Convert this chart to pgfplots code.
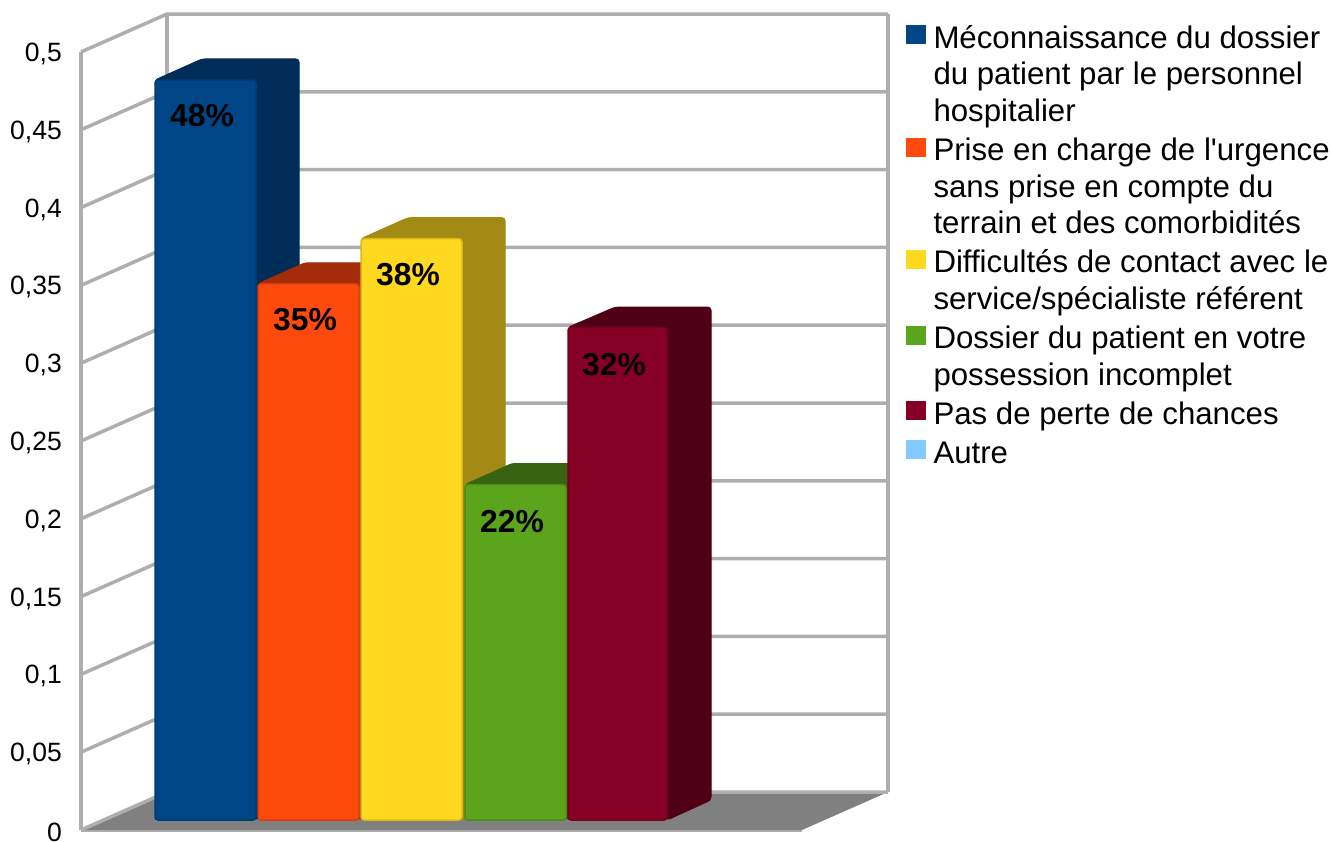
\documentclass[border=0pt]{standalone}
\usepackage{fontspec}
\setmainfont{Liberation Sans}[Ligatures={TeXOff,NoCommon}]
\usepackage{pgfplots}
\pgfplotsset{compat=1.18}
\definecolor{gridc}{HTML}{AEAEAE}
\definecolor{floorc}{HTML}{808080}
\definecolor{blueF}{HTML}{004586}\definecolor{blueS}{HTML}{002C58}
\definecolor{redF}{HTML}{FF4A0E}\definecolor{redS}{HTML}{A52C08}
\definecolor{yelF}{HTML}{FFD920}\definecolor{yelS}{HTML}{A38A14}
\definecolor{greF}{HTML}{5BA51C}\definecolor{greS}{HTML}{386412}
\definecolor{purF}{HTML}{860026}\definecolor{purS}{HTML}{500016}
\definecolor{cyaF}{HTML}{83CAFF}
\newcommand{\barlabel}[1]{\fontsize{31.8}{36}\selectfont\bfseries #1}
% legend entries as boxes with a fixed line pitch
\newcommand{\lline}[1]{\hbox{\vrule width 0pt height 25.6pt depth 11pt\relax #1}}
\newcommand{\lentry}[1]{\vbox{\offinterlineskip #1}}
\tikzset{
  gl/.style={gridc,line width=3.5pt},
  front/.style={fill=#1F,draw=#1F!85!black,line width=1.5pt,rounded corners=3pt},
  back/.style={fill=#1S,draw=#1S,line width=1pt,rounded corners=3pt}
}
\begin{document}
\begin{tikzpicture}[x=1pt,y=1pt]
\begin{axis}[
  at={(81pt,11pt)},anchor=south west,
  scale only axis,width=721pt,height=778pt,
  xmin=81,xmax=802,ymin=0,ymax=0.5,clip=false,
  axis y line=left,axis x line=bottom,
  axis line style={gridc,line width=3.5pt,-},
  xtick=\empty,
  ytick={0,0.05,0.1,0.15,0.2,0.25,0.3,0.35,0.4,0.45,0.5},
  yticklabels={0,{0,05},{0,1},{0,15},{0,2},{0,25},{0,3},{0,35},{0,4},{0,45},{0,5}},
  major tick length=0pt,
  yticklabel style={font=\fontsize{26.5}{30}\selectfont,inner sep=0pt,xshift=-19pt,yshift=-2pt},
  legend image code/.code={\fill[#1,draw=none,rounded corners=0pt] (0pt,-23.6pt) rectangle (20pt,-4.6pt);},
  legend style={at={(axis cs:906,0.5244)},anchor=north west,draw=none,fill=none,inner sep=0pt,outer sep=0pt,
    yshift=-6.6pt,
    font=\fontsize{31.2}{36.6}\selectfont,row sep=8pt,
    cells={anchor=north west,inner sep=0pt,outer sep=0pt},
    /tikz/every odd column/.style={column sep=5.5pt}},
]
% floor
\addplot[fill=floorc,draw=none,forget plot] coordinates {(81,0) (167,0.0244) (888,0.0244) (802,0)} --cycle;
% walls
\addplot[gl,forget plot] coordinates {(167,0.0244) (167,0.5244)};
\addplot[gl,forget plot] coordinates {(888,0.0244) (888,0.5244)};
% grid: side wall and back wall
\addplot[gl,forget plot] coordinates {(81,0) (167,0.0244) (888,0.0244)};
\addplot[gl,forget plot] coordinates {(81,0.05) (167,0.0744) (888,0.0744)};
\addplot[gl,forget plot] coordinates {(81,0.1) (167,0.1244) (888,0.1244)};
\addplot[gl,forget plot] coordinates {(81,0.15) (167,0.1744) (888,0.1744)};
\addplot[gl,forget plot] coordinates {(81,0.2) (167,0.2244) (888,0.2244)};
\addplot[gl,forget plot] coordinates {(81,0.25) (167,0.2744) (888,0.2744)};
\addplot[gl,forget plot] coordinates {(81,0.3) (167,0.3244) (888,0.3244)};
\addplot[gl,forget plot] coordinates {(81,0.35) (167,0.3744) (888,0.3744)};
\addplot[gl,forget plot] coordinates {(81,0.4) (167,0.4244) (888,0.4244)};
\addplot[gl,forget plot] coordinates {(81,0.45) (167,0.4744) (888,0.4744)};
\addplot[gl,forget plot] coordinates {(81,0.5) (167,0.5244) (888,0.5244)};
% blue bar: 0.482
\addplot[back=blue,forget plot] coordinates {(155,0.482) (202,0.4955) (299,0.4955) (299,0.0193) (256,0.0064) (256,0.482)} --cycle;
\addplot[front=blue] coordinates {(155,0.0064) (155,0.482) (256,0.482) (256,0.0064)} --cycle;
\addlegendentry{\lentry{\lline{Méconnaissance du dossier}\lline{du patient par le personnel}\lline{hospitalier}}}
% red bar: 0.351
\addplot[back=red,forget plot] coordinates {(258,0.351) (305,0.3645) (402,0.3645) (402,0.0193) (359,0.0064) (359,0.351)} --cycle;
\addplot[front=red] coordinates {(258,0.0064) (258,0.351) (359,0.351) (359,0.0064)} --cycle;
\addlegendentry{\lentry{\lline{Prise en charge de l'urgence}\lline{sans prise en compte du}\lline{terrain et des comorbidités}}}
% yellow bar: 0.380
\addplot[back=yel,forget plot] coordinates {(361,0.380) (408,0.3935) (505,0.3935) (505,0.0193) (462,0.0064) (462,0.380)} --cycle;
\addplot[front=yel] coordinates {(361,0.0064) (361,0.380) (462,0.380) (462,0.0064)} --cycle;
\addlegendentry{\lentry{\lline{Difficultés de contact avec le}\lline{service/spécialiste référent}}}
% green bar: 0.222
\addplot[back=gre,forget plot] coordinates {(465,0.222) (512,0.2355) (609,0.2355) (609,0.0193) (566,0.0064) (566,0.222)} --cycle;
\addplot[front=gre] coordinates {(465,0.0064) (465,0.222) (566,0.222) (566,0.0064)} --cycle;
\addlegendentry{\lentry{\lline{Dossier du patient en votre}\lline{possession incomplet}}}
% purple bar: 0.323
\addplot[back=pur,forget plot] coordinates {(568,0.323) (615,0.3360) (711,0.3360) (711,0.0193) (667,0.0064) (667,0.323)} --cycle;
\addplot[front=pur] coordinates {(568,0.0064) (568,0.323) (667,0.323) (667,0.0064)} --cycle;
\addlegendentry{\lentry{\lline{Pas de perte de chances}}}
\addlegendimage{fill=cyaF}
\addlegendentry{\lentry{\lline{Autre}}}
% data labels
\node[anchor=base,inner sep=0pt] at (axis cs:202,0.4518) {\barlabel{48\%}};
\node[anchor=base,inner sep=0pt] at (axis cs:305,0.3207) {\barlabel{35\%}};
\node[anchor=base,inner sep=0pt] at (axis cs:408,0.3499) {\barlabel{38\%}};
\node[anchor=base,inner sep=0pt] at (axis cs:512,0.1909) {\barlabel{22\%}};
\node[anchor=base,inner sep=0pt] at (axis cs:614,0.2918) {\barlabel{32\%}};
\end{axis}
\pgfresetboundingbox
\path[use as bounding box] (0,0) rectangle (1331,841);
\end{tikzpicture}
\end{document}
